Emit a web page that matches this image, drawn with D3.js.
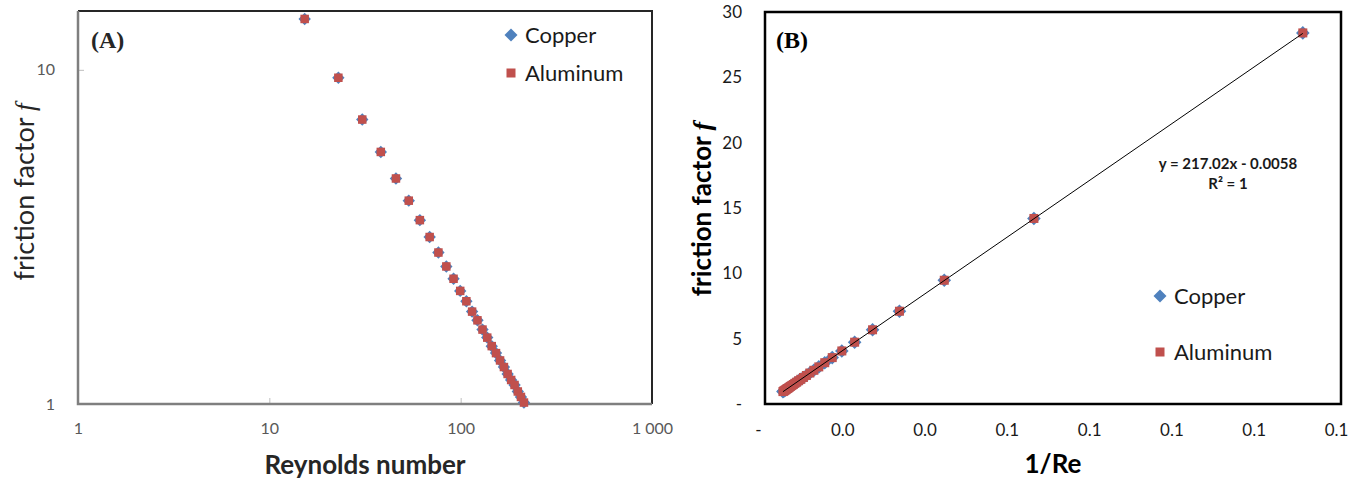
<!DOCTYPE html>
<html>
<head>
<meta charset="utf-8">
<script src="https://cdn.jsdelivr.net/npm/d3@7"></script>
<style>
  body { margin: 0; background: #fff; }
  text { font-family: Lato, "Liberation Sans", sans-serif; }
</style>
</head>
<body>
<div id="chart"></div>
<script>
// values (both metals lie on the same points)
var reynolds = [7.65, 15.3, 22.95, 30.6, 38.25, 45.9, 53.55, 61.2, 68.85, 76.5,
  84.15, 91.8, 99.45, 107.1, 114.75, 122.4, 130.05, 137.7, 145.35, 153,
  160.65, 168.3, 175.95, 183.6, 191.25, 198.9, 206.55, 214.2, 221.85, 229.5];
var copperF = [28.4, 14.2, 9.47, 7.1, 5.68, 4.73, 4.06, 3.55, 3.16, 2.84,
  2.58, 2.37, 2.18, 2.03, 1.89, 1.78, 1.67, 1.58, 1.49, 1.42,
  1.35, 1.29, 1.23, 1.18, 1.14, 1.09, 1.05, 1.01, 0.98, 0.95];
var aluminumF = [28.4, 14.2, 9.47, 7.1, 5.68, 4.73, 4.06, 3.55, 3.16, 2.84,
  2.58, 2.37, 2.18, 2.03, 1.89, 1.78, 1.67, 1.58, 1.49, 1.42,
  1.35, 1.29, 1.23, 1.18, 1.14, 1.09, 1.05, 1.01, 0.98, 0.95];

var seriesNames = ["Copper", "Aluminum"];
var ticksA_x = [1, 10, 100, 1000];
var ticksA_y = [1, 10];
var ticksB_x = [0, 0.02, 0.04, 0.06, 0.08, 0.1, 0.12, 0.14];
var ticksB_y = [0, 5, 10, 15, 20, 25, 30];

// trend line shown on panel B
var trendSlope = 217.02;
var trendIntercept = -0.0058;
var trendLabel = ["y = 217.02x - 0.0058", "R² = 1"];

var blue = "#4f81bd";
var red = "#c0504d";

var svg = d3.select("#chart").append("svg")
  .attr("width", 1360)
  .attr("height", 482);

var rows = reynolds.map(function(re, i) {
  return {re: re, cu: copperF[i], al: aluminumF[i]};
});

var diamond = function(x, y, h) {
  return "M" + x + "," + (y - h) + "L" + (x + h) + "," + y + "L" + x + "," + (y + h) + "L" + (x - h) + "," + y + "Z";
};

function drawMarkers(g, pts, dh, sq) {
  // copper diamonds first, aluminum squares drawn on top
  g.selectAll(".cu").data(pts).enter().append("path")
    .attr("class", "cu")
    .attr("d", function(d) { return diamond(d.x, d.yc, dh); })
    .attr("fill", blue);
  g.selectAll(".al").data(pts).enter().append("rect")
    .attr("class", "al")
    .attr("x", function(d) { return d.x - sq / 2; })
    .attr("y", function(d) { return d.ya - sq / 2; })
    .attr("width", sq).attr("height", sq)
    .attr("fill", red);
}

function drawLegend(g, x, y1, y2, size) {
  g.append("path").attr("d", diamond(x, y1, 6.5)).attr("fill", blue);
  g.append("rect").attr("x", x - 4.5).attr("y", y2 - 4.5)
    .attr("width", 9).attr("height", 9).attr("fill", red);
  g.append("text").attr("x", x + 14).attr("y", y1 + 8)
    .style("font-size", size + "px").attr("fill", "#1a1a1a").text(seriesNames[0]);
  g.append("text").attr("x", x + 14).attr("y", y2 + 8)
    .style("font-size", size + "px").attr("fill", "#1a1a1a").text(seriesNames[1]);
}

/* ---------- panel A : log-log ---------- */
var A = {l: 78, r: 652, t: 11, b: 404};

var xA = d3.scaleLog().domain([1, 1000]).range([A.l, A.r]);
var yA = d3.scaleLog().domain([1, 15]).range([A.b, A.t]);

var spaceFmt = d3.formatLocale({decimal: ".", thousands: " ", grouping: [3], currency: ["", ""]}).format(",");

var gA = svg.append("g");

gA.append("g")
  .attr("transform", "translate(0," + A.b + ")")
  .call(d3.axisBottom(xA).tickValues(ticksA_x).tickFormat(spaceFmt)
    .tickSizeInner(-6).tickSizeOuter(0).tickPadding(19))
  .call(function(ax) {
    ax.select(".domain").remove();
    ax.selectAll("line").attr("stroke", "#bfbfbf");
    ax.selectAll("text").style("font-size", "16px").style("font-family", "Lato").attr("fill", "#595959");
  });

gA.append("g")
  .attr("transform", "translate(" + A.l + ",0)")
  .call(d3.axisLeft(yA).tickValues(ticksA_y).tickFormat(d3.format("d"))
    .tickSizeInner(-6).tickSizeOuter(0).tickPadding(23))
  .call(function(ax) {
    ax.select(".domain").remove();
    ax.selectAll("line").attr("stroke", "#bfbfbf");
    ax.selectAll("text").style("font-size", "16px").style("font-family", "Lato").attr("fill", "#595959");
  });

// frame: top/right dark, left/bottom grey axis lines
gA.append("path")
  .attr("d", "M" + A.l + "," + A.t + "H" + A.r + "V" + A.b)
  .attr("fill", "none").attr("stroke", "#262626").attr("stroke-width", 2);
gA.append("path")
  .attr("d", "M" + A.l + "," + A.t + "V" + A.b + "H" + A.r)
  .attr("fill", "none").attr("stroke", "#7f7f7f").attr("stroke-width", 2.5);

var ptsA = rows.filter(function(d) { return d.cu >= 1 && d.cu <= 15; })
  .map(function(d) { return {x: xA(d.re), yc: yA(d.cu), ya: yA(d.al)}; });
drawMarkers(gA.append("g"), ptsA, 6.2, 8.5);

gA.append("text").attr("x", 91).attr("y", 48)
  .style("font-family", "'Liberation Serif', serif").style("font-weight", "bold")
  .style("font-size", "24px").attr("fill", "#262626").text("(A)");

drawLegend(gA.append("g"), 511, 35, 73, 22);

gA.append("text")
  .attr("x", (A.l + A.r) / 2).attr("y", 474)
  .attr("text-anchor", "middle")
  .style("font-size", "26px").style("font-weight", "bold").attr("fill", "#262626")
  .text("Reynolds number");

gA.append("text")
  .attr("transform", "translate(34,192) rotate(-90)")
  .attr("text-anchor", "middle")
  .style("font-size", "27px").attr("fill", "#262626")
  .text("friction factor ")
  .append("tspan").style("font-style", "italic").style("font-family", "'Liberation Serif', serif").text("f");

/* ---------- panel B : f against 1/Re ---------- */
var B = {l: 765, r: 1341, t: 12, b: 404};

var xB = d3.scaleLinear().domain([0, 0.14]).range([B.l, B.r]);
var yB = d3.scaleLinear().domain([0, 30]).range([B.b, B.t]);

// excel accounting style labels: zero shows as "-"
var acct = function(d) { return d === 0 ? "-" : d3.format(".1f")(d); };
var acctY = function(d) { return d === 0 ? "-" : d3.format("d")(d); };

var gB = svg.append("g");

gB.append("g")
  .attr("transform", "translate(0," + B.b + ")")
  .call(d3.axisBottom(xB).tickValues(ticksB_x).tickFormat(acct)
    .tickSize(0).tickPadding(20))
  .call(function(ax) {
    ax.select(".domain").remove();
    ax.selectAll("text").style("font-size", "17px").style("font-family", "Lato")
      .attr("fill", "#1a1a1a")
      .attr("dx", function(d) { return d === 0 ? -7 : -5; });
  });

gB.append("g")
  .attr("transform", "translate(" + B.l + ",0)")
  .call(d3.axisLeft(yB).tickValues(ticksB_y).tickFormat(acctY)
    .tickSize(0).tickPadding(23))
  .call(function(ax) {
    ax.select(".domain").remove();
    ax.selectAll("text").style("font-size", "17px").style("font-family", "Lato").attr("fill", "#1a1a1a");
  });

gB.append("rect")
  .attr("x", B.l).attr("y", B.t)
  .attr("width", B.r - B.l).attr("height", B.b - B.t)
  .attr("fill", "none").attr("stroke", "#000").attr("stroke-width", 2.5);

var ptsB = rows.map(function(d) {
  return {x: xB(1 / d.re), yc: yB(d.cu), ya: yB(d.al)};
});
drawMarkers(gB.append("g"), ptsB, 6.8, 9);

var invRe = reynolds.map(function(r) { return 1 / r; });
var trendX = d3.extent(invRe);
gB.append("line")
  .attr("x1", xB(trendX[0])).attr("y1", yB(trendSlope * trendX[0] + trendIntercept))
  .attr("x2", xB(trendX[1])).attr("y2", yB(trendSlope * trendX[1] + trendIntercept))
  .attr("stroke", "#000").attr("stroke-width", 1);

gB.selectAll(".eq").data(trendLabel).enter().append("text")
  .attr("x", 1228).attr("y", function(d, i) { return 169 + i * 20; })
  .attr("text-anchor", "middle")
  .style("font-size", "15px").style("font-weight", "bold").attr("fill", "#1a1a1a")
  .text(function(d) { return d; });

gB.append("text").attr("x", 776).attr("y", 48)
  .style("font-family", "'Liberation Serif', serif").style("font-weight", "bold")
  .style("font-size", "24px").attr("fill", "#000").text("(B)");

drawLegend(gB.append("g"), 1160, 296, 352, 22);

gB.append("text")
  .attr("x", (B.l + B.r) / 2).attr("y", 473)
  .attr("text-anchor", "middle")
  .style("font-size", "26px").style("font-weight", "bold").attr("fill", "#000")
  .text("1/Re");

gB.append("text")
  .attr("transform", "translate(711,209) rotate(-90)")
  .attr("text-anchor", "middle")
  .style("font-size", "26px").style("font-weight", "bold").attr("fill", "#000")
  .text("friction factor ")
  .append("tspan").style("font-style", "italic").style("font-family", "'Liberation Serif', serif").text("f");
</script>
</body>
</html>
